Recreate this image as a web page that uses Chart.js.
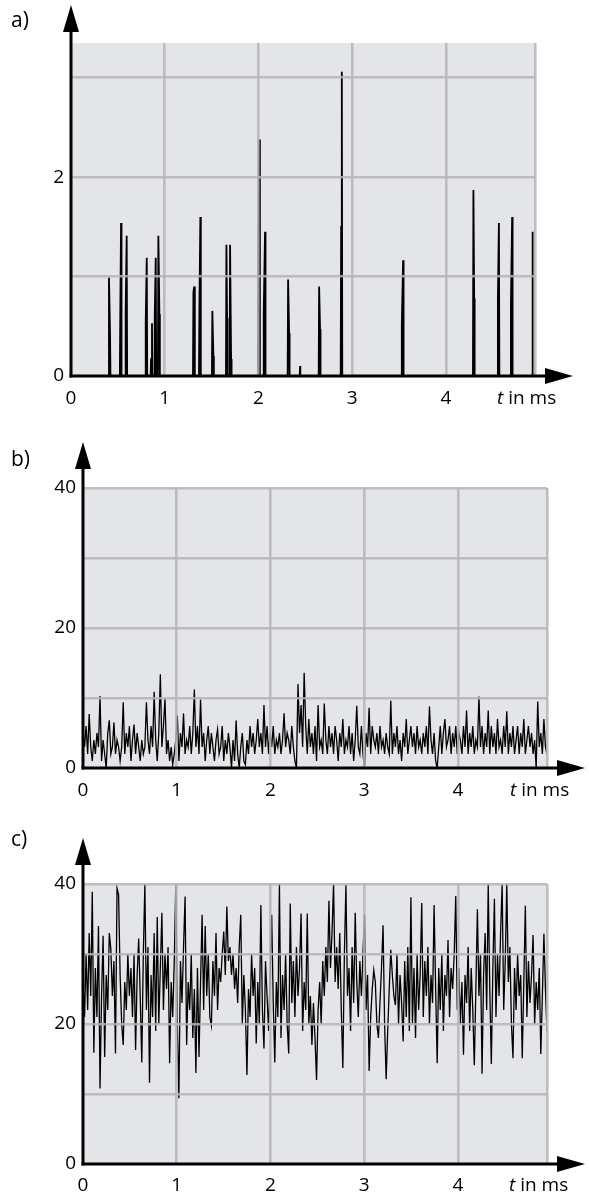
<!DOCTYPE html>
<html><head><meta charset="utf-8">
<script src="https://cdn.jsdelivr.net/npm/chart.js@4.4.1/dist/chart.umd.min.js"></script>
<style>
html,body{margin:0;padding:0;background:#fff;}
body{width:589px;height:1196px;position:relative;overflow:hidden;}
canvas{position:absolute;left:0;}
</style></head><body>
<canvas id="ca" width="589" height="410" style="top:0px"></canvas>
<canvas id="cb" width="589" height="390" style="top:410px"></canvas>
<canvas id="cc" width="589" height="396" style="top:800px"></canvas>
<script>
// ---------- data ----------
const tMax = 4.95;                       // right edge of the plots (ms)
const xTickLabels = ['0','1','2','3','4'];
const aYTickLabels = ['0','2'];
const bcYTickLabels = ['0','20','40'];

// panel a: spikes (time in ms, peak height, shoulder time, shoulder height)
const spikeTimes     = [0.405,0.534,0.594,0.808,0.864,0.904,0.932,1.316,1.380,1.508,1.658,1.697,2.010,2.070,2.316,2.444,2.647,2.889,3.543,4.293,4.565,4.706,4.923];
const spikePeaks     = [0.99,1.54,1.41,1.19,0.53,1.19,1.41,0.90,1.60,0.655,1.32,1.32,2.38,1.45,0.97,0.10,0.90,3.06,1.165,1.87,1.54,1.60,1.45];
const shoulderTimes  = [0.416,0.526,0.583,0.797,0.854,0.893,0.943,1.306,1.370,1.519,1.665,1.708,1.999,2.056,2.327,2.444,2.657,2.882,3.529,4.301,4.554,4.693,4.923];
const shoulderValues = [0.45,0.67,0.65,0.54,0.17,0.59,0.62,0.85,0.72,0.20,0.58,0.17,1.12,0.64,0.43,0.10,0.47,1.50,0.52,0.78,0.78,0.71,1.45];

// panel b: sampled signal, low level
const bValues = [
 5,3,6,2,7.7,3,1,4,2,5,3,10.3,1,4,2,0,5,6.8,2,3,
 6.5,2,4,3,1,3,9.4,2,5,3,6,1,4,6.2,2,5,3,1,4,2,
 3,9.4,4,2,6,3,10.9,4,1,5,13.4,3,6,9.9,2,4,1,3,0.5,2,
 4,7.5,1,5,3,7.8,2,4,3,6,2,5,11.2,3,6,2,9.8,3,5,1,
 4,6,2,5,3,1,4,5.5,2,3,6,1,4,2,5,3,0,4,1,6.8,
 2,0,3,5,1,0.5,4,2,6,3,5,2,4,7,3,5,2,9,3,6,
 2,5,3,6,2,4,3,5,2,4,7.8,3,5,4,2,6,3,1,0,12,
 5,9,3,13.6,6,2,7,3,5,2,6,1,9,3,4,2,9.2,4,2,6,
 3,5,2,6,4,1,5,3,7,2,4,3,6,2,5,1,4,8.9,3,2,
 6,2,0,5,3,8.6,2,6,4,3,5,2,6,3,4,2,5,3,2,9.6,
 2,5,3,6,2,4,1,5,3,7,2,4,6,3,5,2,6,3,4,2,
 5,3,6,2,8.8,4,2,5,1,0,3,6,2,5,7,3,4,6,2,5,
 3,6,2,5,4,2,6,3,8.2,2,5,3,6,2,4,3,10.2,3,6,2,
 5,3,8.2,2,6,3,5,2,7,3,4,2,6,3,8.1,2,5,3,6,2,
 4,6,2,5,3,7,2,4,6,3,5,2,4,0,9.5,3,5,2,7,3,2
];

// panel c: sampled signal, high level
const cValues = [
 26,21,30,22,33,24,38.9,15.9,28,21,34,10.8,24,32.6,15.3,27,22,33,30.7,24,
 29,15.8,39.4,38.5,27,20,17,26,22,30,24,28,21,30,16.3,27,32.2,24,14.5,30,
 40,22,31,11.6,27,21,33,19,35.3,20,28,35.9,22,30,25,31,14.4,26,21,29,
 40,20,9.4,29,23,31,38.2,17,26,22,30,18,25,13,28,15.3,26,35.6,22,34,
 24,30,21,19.8,29,24,33,22,28,26,30,33.2,27,36.8,29,31,27,30,25,28,
 23,31,35.6,20,27,22,12.7,25,21,30,24,28,17.2,26,20,37,22,16.5,29,24,
 19,27,35.6,23,14.5,26,21,40,18,27,22,30,20,15.8,37.2,23,29,21,31,24,
 28,35.8,19,26,22,35.8,20,24,17,23,18,12,22,26,20,29,24,31,26,37.6,
 28,33,40,26,31,25,33,22,13.7,30,39.9,24,28,19,31,23,35.9,26,21,29,
 24,30,35.6,22,27,13.3,21,25,27.7,26,20,18,23,28,34.1,20,12.1,19,25,30.6,
 27,24,22.7,30,20,27,23,17.5,29,21,31,19,38.1,20,28,18,30,22,27,37.3,
 21,29,24,31,20,27,23,37,25,14.4,28,22,30,19,27,24,32,21,28,25,
 30,38.3,22,28,20,26,15.6,27,23,31,19,28,22,14.1,25,36.4,24,30,12.9,27,
 33,22,40,25,14.3,28,37.9,21,30,24,33,40,22,29,40,26,31,20,15.1,28,
 22,30,24,27,15.1,26,36.9,21,29,23,27,32.7,20,26,22,28,15.7,24,32.9,25,18.9
];

// ---------- build datasets ----------
function spikePoints() {
  const pts = [{x:0,y:0}];
  for (let i = 0; i < spikeTimes.length; i++) {
    let p1 = {x:shoulderTimes[i], y:shoulderValues[i]}, p2 = {x:spikeTimes[i], y:spikePeaks[i]};
    if (p1.x > p2.x) { const t = p1; p1 = p2; p2 = t; }
    pts.push({x:p1.x - 0.005, y:0}, p1, p2, {x:p2.x + 0.005, y:0});
  }
  pts.push({x:tMax, y:0});
  return pts;
}
function sampledPoints(vals) {
  const dt = tMax / (vals.length - 1);
  return vals.map((v, i) => ({x: i * dt, y: v}));
}

// ---------- styling ----------
const FONT = '"Open Sans", "Noto Sans", sans-serif';
const BG = '#e4e5e8';
const GRID = 'rgba(180,180,184,0.85)';
const NONE = 'rgba(0,0,0,0)';

const decor = {
  id: 'decor',
  beforeDraw(chart, args, o) {
    const a = chart.chartArea, ctx = chart.ctx;
    ctx.save();
    ctx.fillStyle = BG;
    ctx.fillRect(a.left, a.top, a.right - a.left, a.bottom - a.top);
    ctx.restore();
  },
  afterDraw(chart, args, o) {
    const a = chart.chartArea, ctx = chart.ctx;
    ctx.save();
    ctx.strokeStyle = '#000'; ctx.fillStyle = '#000'; ctx.lineWidth = 3;
    ctx.beginPath(); ctx.moveTo(a.left, a.bottom + 1.5); ctx.lineTo(a.left, o.yTip + 20); ctx.stroke();
    ctx.beginPath(); ctx.moveTo(a.left, o.yTip); ctx.lineTo(a.left - 8, o.yTip + 27); ctx.lineTo(a.left + 8, o.yTip + 27); ctx.closePath(); ctx.fill();
    ctx.beginPath(); ctx.moveTo(a.left - 1.5, a.bottom); ctx.lineTo(o.xTip - 20, a.bottom); ctx.stroke();
    ctx.beginPath(); ctx.moveTo(o.xTip, a.bottom); ctx.lineTo(o.xTip - 28, a.bottom - 8); ctx.lineTo(o.xTip - 28, a.bottom + 8); ctx.closePath(); ctx.fill();
    // panel label
    ctx.font = '21px ' + FONT; ctx.textAlign = 'left'; ctx.textBaseline = 'alphabetic';
    ctx.fillText(o.label, 11, o.labelY);
    // axis title "t in ms"
    const yc = a.bottom + o.xPad + 11.4;
    ctx.textBaseline = 'middle';
    ctx.font = 'italic 19px ' + FONT;
    ctx.fillText('t', o.titleX, yc);
    const w = ctx.measureText('t').width;
    ctx.font = '19px ' + FONT;
    ctx.fillText(' in ms', o.titleX + w, yc);
    ctx.restore();
  }
};

function panel(id, cfg) {
  const cv = document.getElementById(id);
  const H = cv.height;
  return new Chart(cv, {
    type: 'line',
    data: { datasets: [{ data: cfg.points, borderColor: '#000', borderWidth: cfg.lw, pointRadius: 0, tension: 0, fill: false }] },
    options: {
      responsive: false, animation: false, devicePixelRatio: 1, events: [],
      layout: { padding: { left: 0, top: cfg.area.top, right: 589 - cfg.area.right, bottom: 0 } },
      plugins: { legend: { display: false }, tooltip: { enabled: false },
        decor: { yTip: cfg.yTip, xTip: cfg.xTip, label: cfg.label, labelY: cfg.labelY, titleX: cfg.titleX, xPad: cfg.xPad } },
      scales: {
        x: {
          type: 'linear', min: 0, max: tMax,
          border: { display: false },
          grid: { drawTicks: false, lineWidth: 2.6, z: 1,
                  color: c => (c.tick && c.tick.value === 0) ? NONE : GRID },
          ticks: { stepSize: 1, autoSkip: false, maxRotation: 0, padding: cfg.xPad, color: '#000',
                   font: { family: FONT, size: 19 },
                   callback: v => xTickLabels.includes(String(v)) ? String(v) : '' },
          afterFit: s => { s.height = H - cfg.area.bottom; }
        },
        y: {
          type: 'linear', min: 0, max: cfg.yMax,
          border: { display: false },
          grid: { drawTicks: false, lineWidth: 2.6, z: 1,
                  color: c => (c.tick && (c.tick.value === 0 || c.tick.value > cfg.gridMax)) ? NONE : GRID },
          ticks: { stepSize: cfg.yStep, autoSkip: false, padding: 7, color: '#000',
                   font: { family: FONT, size: 19 },
                   callback: v => cfg.yLabels.includes(String(v)) ? String(v) : '' },
          afterFit: s => { s.width = cfg.area.left; }
        }
      }
    },
    plugins: [decor]
  });
}

panel('ca', { points: spikePoints(), lw: 1.8, yMax: 3.35, yStep: 1, gridMax: 3, yLabels: aYTickLabels,
  area: { left: 71, right: 535, top: 43, bottom: 376 }, yTip: 5, xTip: 573, label: 'a)', labelY: 27, titleX: 497, xPad: 11 });
panel('cb', { points: sampledPoints(bValues), lw: 1.3, yMax: 40, yStep: 10, gridMax: 40, yLabels: bcYTickLabels,
  area: { left: 83, right: 547, top: 78, bottom: 358 }, yTip: 32, xTip: 585, label: 'b)', labelY: 56, titleX: 510, xPad: 11 });
panel('cc', { points: sampledPoints(cValues), lw: 1.3, yMax: 40, yStep: 10, gridMax: 40, yLabels: bcYTickLabels,
  area: { left: 83, right: 547, top: 84, bottom: 364 }, yTip: 38, xTip: 585, label: 'c)', labelY: 46, titleX: 509, xPad: 10 });
</script>
</body></html>
